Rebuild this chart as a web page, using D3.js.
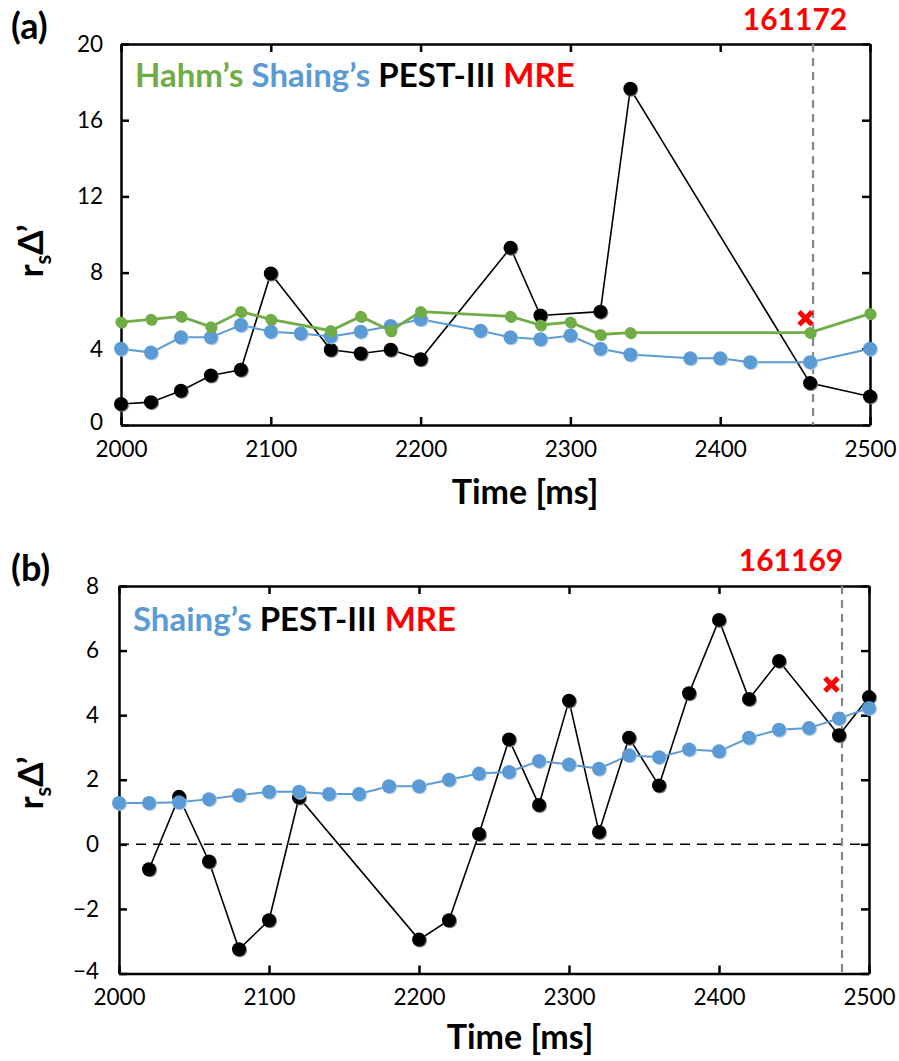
<!DOCTYPE html>
<html>
<head>
<meta charset="utf-8">
<script src="https://cdn.jsdelivr.net/npm/d3@7"></script>
<style>
  body { margin: 0; background: #fff; }
  svg { display: block; font-family: Lato, "Open Sans", sans-serif; }
</style>
</head>
<body>
<div id="chart"></div>
<script>
const width = 899;
const height = 1061;

// ---- panel (a) data, shot 161172 ----
const timeA_pest = [2000, 2020, 2040, 2060, 2080, 2100, 2140, 2160, 2180, 2200, 2260, 2280, 2320, 2340, 2460, 2500];
const pestA = [1.1, 1.2, 1.8, 2.6, 2.9, 7.95, 3.95, 3.75, 3.95, 3.45, 9.3, 5.75, 5.95, 17.65, 2.2, 1.5];

const timeA_hahm = [2000, 2020, 2040, 2060, 2080, 2100, 2140, 2160, 2180, 2200, 2260, 2280, 2300, 2320, 2340, 2460, 2500];
const hahmA = [5.4, 5.55, 5.7, 5.15, 5.95, 5.55, 4.95, 5.7, 4.95, 5.95, 5.7, 5.25, 5.4, 4.75, 4.85, 4.85, 5.85];

const timeA_shaing = [2000, 2020, 2040, 2060, 2080, 2100, 2120, 2140, 2160, 2180, 2200, 2240, 2260, 2280, 2300, 2320, 2340, 2380, 2400, 2420, 2460, 2500];
const shaingA = [4.0, 3.8, 4.6, 4.6, 5.25, 4.9, 4.8, 4.65, 4.9, 5.2, 5.55, 4.95, 4.6, 4.5, 4.7, 4.0, 3.7, 3.5, 3.5, 3.3, 3.3, 4.0];

const mreA = [{ t: 2457, v: 5.6 }];
const markA = 2462;

// ---- panel (b) data, shot 161169 ----
const timeB_shaing = [2000, 2020, 2040, 2060, 2080, 2100, 2120, 2140, 2160, 2180, 2200, 2220, 2240, 2260, 2280, 2300, 2320, 2340, 2360, 2380, 2400, 2420, 2440, 2460, 2480, 2500];
const shaingB = [1.28, 1.28, 1.3, 1.4, 1.52, 1.63, 1.63, 1.56, 1.56, 1.8, 1.8, 2.0, 2.19, 2.24, 2.58, 2.47, 2.34, 2.76, 2.7, 2.94, 2.88, 3.3, 3.55, 3.6, 3.9, 4.22];

const timeB_pest = [2020, 2040, 2060, 2080, 2100, 2120, 2200, 2220, 2240, 2260, 2280, 2300, 2320, 2340, 2360, 2380, 2400, 2420, 2440, 2480, 2500];
const pestB = [-0.77, 1.47, -0.53, -3.25, -2.35, 1.45, -2.95, -2.35, 0.32, 3.25, 1.22, 4.45, 0.38, 3.3, 1.82, 4.68, 6.95, 4.5, 5.68, 3.38, 4.56];

const mreB = [{ t: 2475, v: 4.95 }];
const markB = 2482;

const xTicks = [2000, 2100, 2200, 2300, 2400, 2500];
const yTicksA = [0, 4, 8, 12, 16, 20];
const yTicksB = [-4, -2, 0, 2, 4, 6, 8];

const GREEN = "#70ad47", BLUE = "#5b9bd5", RED = "#ff0000";

const svg = d3.select("#chart").append("svg")
    .attr("width", width)
    .attr("height", height);

const zip = (ts, vs) => ts.map((t, i) => ({ t, v: vs[i] }));

function drawPanel(p) {
    const x = d3.scaleLinear().domain([2000, 2500]).range([p.left, p.right]);
    const y = d3.scaleLinear().domain(p.yDomain).range([p.bottom, p.top]);
    const g = svg.append("g");

    // zero line (panel b)
    if (p.zeroLine) {
        g.append("line")
            .attr("x1", p.left).attr("x2", p.right)
            .attr("y1", y(0)).attr("y2", y(0))
            .attr("stroke", "#000").attr("stroke-width", 1.5)
            .attr("stroke-dasharray", "10,7");
    }

    // axes, ticks pointing inwards on all four sides
    const axB = g.append("g").attr("transform", `translate(0,${p.bottom})`)
        .call(d3.axisBottom(x).tickValues(xTicks).tickSizeInner(-8).tickSizeOuter(0).tickPadding(16).tickFormat(d3.format("d")));
    const axT = g.append("g").attr("transform", `translate(0,${p.top})`)
        .call(d3.axisTop(x).tickValues(xTicks).tickSizeInner(-8).tickSizeOuter(0).tickFormat(""));
    const axL = g.append("g").attr("transform", `translate(${p.left},0)`)
        .call(d3.axisLeft(y).tickValues(p.yTicks).tickSizeInner(-8).tickSizeOuter(0).tickPadding(p.yPad).tickFormat(d3.format("d")));
    const axR = g.append("g").attr("transform", `translate(${p.right},0)`)
        .call(d3.axisRight(y).tickValues(p.yTicks).tickSizeInner(-8).tickSizeOuter(0).tickFormat(""));
    [axB, axT, axL, axR].forEach(a => {
        a.select(".domain").attr("stroke", "#000").attr("stroke-width", 2.5);
        a.selectAll(".tick line").attr("stroke", "#000").attr("stroke-width", 2.5);
        a.selectAll(".tick text").attr("fill", "#000")
            .style("font-family", "Lato, sans-serif").style("font-size", "22.5px");
    });
    // the lowest y label sits a touch above its tick so it clears the x labels
    axL.selectAll(".tick text").filter(d => d === p.yDomain[0]).attr("dy", "0.22em");

    // marked time
    g.append("line")
        .attr("x1", x(p.mark)).attr("x2", x(p.mark))
        .attr("y1", p.top).attr("y2", p.bottom)
        .attr("stroke", "#888").attr("stroke-width", 2.2)
        .attr("stroke-dasharray", "8,6");

    const line = d3.line().x(d => x(d.t)).y(d => y(d.v));

    p.series.forEach(s => {
        g.append("path").datum(s.data)
            .attr("d", line)
            .attr("fill", "none")
            .attr("stroke", s.color)
            .attr("stroke-width", s.lw);
        g.selectAll(null).data(s.data).enter().append("circle")
            .attr("cx", d => x(d.t) + 1).attr("cy", d => y(d.v) + 1)
            .attr("r", s.r).attr("fill", s.shadow);
        g.selectAll(null).data(s.data).enter().append("circle")
            .attr("cx", d => x(d.t)).attr("cy", d => y(d.v))
            .attr("r", s.r).attr("fill", s.color);
    });

    // MRE cross
    g.selectAll(null).data(p.mre).enter().append("path")
        .attr("transform", d => `translate(${x(d.t)},${y(d.v)})`)
        .attr("d", "M-6.5,-6.5L6.5,6.5M-6.5,6.5L6.5,-6.5")
        .attr("stroke", RED).attr("stroke-width", 5);

    // legend line of coloured words
    const leg = g.append("text")
        .attr("x", p.left + 14).attr("y", p.legendY)
        .style("font-size", "33px").style("font-weight", "bold");
    p.legend.forEach((w, i) => {
        leg.append("tspan").attr("fill", w.color).text((i ? " " : "") + w.text);
    });

    // shot number
    g.append("text")
        .attr("x", p.shotX).attr("y", p.shotY)
        .attr("text-anchor", "middle")
        .attr("fill", RED)
        .style("font-size", "30px").style("font-weight", "bold")
        .text(p.shot);

    // panel letter
    g.append("text")
        .attr("x", 11).attr("y", p.letterY)
        .style("font-size", "36px").style("font-weight", "bold")
        .text(p.letter);

    // x title
    g.append("text")
        .attr("x", p.xTitleX).attr("y", p.xTitleY)
        .attr("text-anchor", "middle")
        .style("font-size", "34px").style("font-weight", "bold")
        .text("Time [ms]");

    // y title r_s Δ'
    const yt = g.append("text")
        .attr("transform", `translate(43,${p.yTitleY}) rotate(-90)`)
        .attr("text-anchor", "middle")
        .style("font-size", "35px").style("font-weight", "bold");
    yt.append("tspan").text("r");
    yt.append("tspan").attr("dy", 8).style("font-size", "22px").text("s");
    yt.append("tspan").attr("dy", -8).text("Δ’");
}

drawPanel({
    left: 121, right: 870, top: 44, bottom: 425,
    yDomain: [0, 20], yTicks: yTicksA, yPad: 18,
    mark: markA, mre: mreA,
    series: [
        { data: zip(timeA_pest, pestA), color: "#000", shadow: "#777", lw: 1.6, r: 7 },
        { data: zip(timeA_shaing, shaingA), color: BLUE, shadow: "#a9c9e8", lw: 2, r: 7 },
        { data: zip(timeA_hahm, hahmA), color: GREEN, shadow: GREEN, lw: 2.8, r: 5.6 }
    ],
    legendY: 87,
    legend: [{ text: "Hahm’s", color: GREEN }, { text: "Shaing’s", color: BLUE },
             { text: "PEST-III", color: "#000" }, { text: "MRE", color: RED }],
    shot: "161172", shotX: 795, shotY: 30,
    letter: "(a)", letterY: 39,
    xTitleX: 525, xTitleY: 504, yTitleY: 251
});

drawPanel({
    left: 119, right: 869, top: 586, bottom: 973.5,
    yDomain: [-4, 8], yTicks: yTicksB, yPad: 20, zeroLine: true,
    mark: markB, mre: mreB,
    series: [
        { data: zip(timeB_pest, pestB), color: "#000", shadow: "#777", lw: 1.6, r: 7 },
        { data: zip(timeB_shaing, shaingB), color: BLUE, shadow: "#a9c9e8", lw: 2, r: 7 }
    ],
    legendY: 631,
    legend: [{ text: "Shaing’s", color: BLUE }, { text: "PEST-III", color: "#000" },
             { text: "MRE", color: RED }],
    shot: "161169", shotX: 791, shotY: 571,
    letter: "(b)", letterY: 581,
    xTitleX: 520, xTitleY: 1049, yTitleY: 783
});
</script>
</body>
</html>
